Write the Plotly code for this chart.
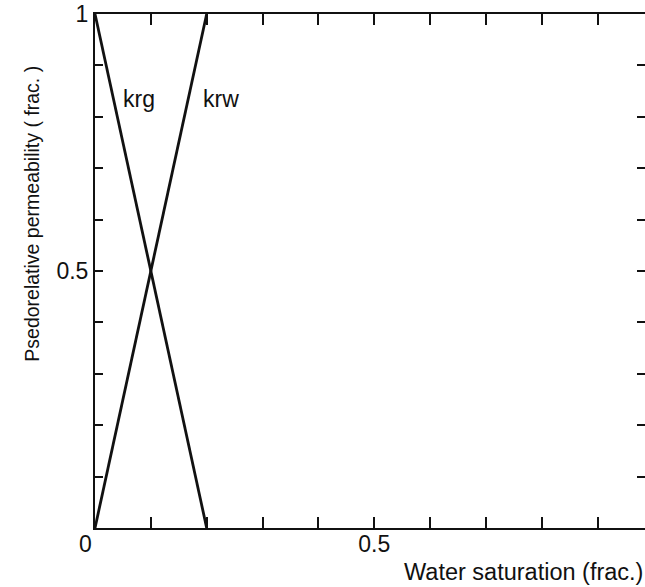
import plotly.graph_objects as go

# Data
sw = [0.0, 0.2]
krg = [1.0, 0.0]
krw = [0.0, 1.0]

x_tickvals = [0.0, 0.1, 0.2, 0.3, 0.4, 0.5, 0.6, 0.7, 0.8, 0.9]
x_ticktext = ["0\u00a0\u00a0\u00a0", "", "", "", "", "0.5", "", "", "", ""]
y_tickvals = [0.0, 0.1, 0.2, 0.3, 0.4, 0.5, 0.6, 0.7, 0.8, 0.9, 1.0]
y_ticktext = ["", "", "", "", "", "0.5", "", "", "", "", "1"]

x_title = "Water saturation (frac.)"
y_title = "Psedorelative permeability ( frac. )"
curve_labels = ["krg", "krw"]
label_x = [0.078, 0.225]
label_y = [0.835, 0.835]

FONT = "Liberation Sans, Arial, sans-serif"
INK = "#111111"

fig = go.Figure()
fig.add_trace(go.Scatter(x=sw, y=krg, mode="lines", line=dict(color=INK, width=2.8),
                         showlegend=False, hoverinfo="skip"))
fig.add_trace(go.Scatter(x=sw, y=krw, mode="lines", line=dict(color=INK, width=2.8),
                         showlegend=False, hoverinfo="skip"))
# invisible trace so the right-hand tick axis is drawn
fig.add_trace(go.Scatter(x=sw, y=krw, yaxis="y2", mode="lines", opacity=0,
                         showlegend=False, hoverinfo="skip"))

for txt, lx, ly in zip(curve_labels, label_x, label_y):
    fig.add_annotation(x=lx, y=ly, xref="x", yref="y", text=txt, showarrow=False,
                       font=dict(family=FONT, size=23, color=INK))

fig.add_annotation(x=1.0, y=-0.086, xref="paper", yref="paper", text=x_title,
                   showarrow=False, xanchor="right", yanchor="middle",
                   font=dict(family=FONT, size=23.5, color=INK))
fig.add_annotation(x=-0.115, y=0.611, xref="paper", yref="paper", text=y_title,
                   showarrow=False, xanchor="center", yanchor="middle", textangle=-90,
                   font=dict(family=FONT, size=19.5, color=INK))

fig.update_layout(
    width=645, height=587,
    margin=dict(l=95, r=0, t=14, b=59),
    paper_bgcolor="white", plot_bgcolor="white",
    font=dict(family=FONT, size=23, color=INK),
    xaxis=dict(range=[0, 0.985], tickmode="array", tickvals=x_tickvals, ticktext=x_ticktext,
               ticks="inside", ticklen=11, tickwidth=2, tickcolor=INK,
               showline=True, linecolor=INK, linewidth=2, mirror="ticks",
               showgrid=False, zeroline=False, tickangle=0, ticklabelstandoff=-6,
               tickfont=dict(family=FONT, size=23, color=INK)),
    yaxis=dict(range=[0, 1], tickmode="array", tickvals=y_tickvals, ticktext=y_ticktext,
               ticks="inside", ticklen=8, tickwidth=2, tickcolor=INK,
               showline=True, linecolor=INK, linewidth=2,
               showgrid=False, zeroline=False,
               tickfont=dict(family=FONT, size=23, color=INK)),
    yaxis2=dict(range=[0, 1], overlaying="y", side="right", anchor="x",
                tickmode="array", tickvals=y_tickvals, showticklabels=False,
                ticks="inside", ticklen=8, tickwidth=2, tickcolor=INK,
                showline=False, showgrid=False, zeroline=False),
)

fig.write_html("out.html", config={"displayModeBar": False},
               post_script="document.body.style.margin='0';document.body.style.overflow='hidden';")
